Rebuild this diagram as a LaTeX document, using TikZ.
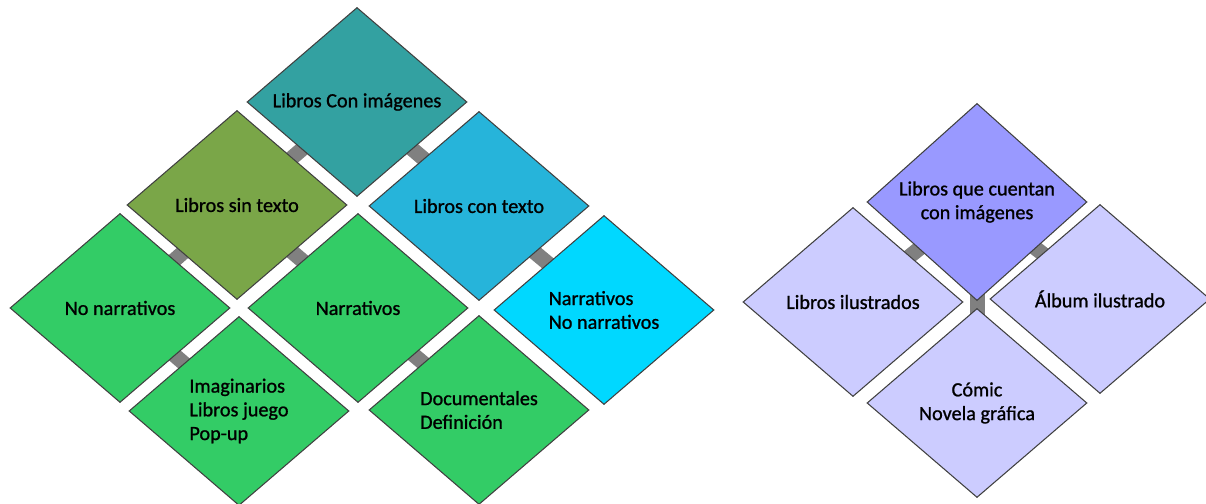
\documentclass[tikz,border=0pt]{standalone}
\usepackage{fontspec}
\setmainfont{Carlito}[FakeBold=1]
\usetikzlibrary{positioning,shapes.geometric,backgrounds}

\definecolor{tealbox}{HTML}{33A1A1}
\definecolor{olivebox}{HTML}{7AA648}
\definecolor{bluebox}{HTML}{26B4DA}
\definecolor{greenbox}{HTML}{33CC66}
\definecolor{cyanbox}{HTML}{00D8FF}
\definecolor{violetbox}{HTML}{9999FF}
\definecolor{lilacbox}{HTML}{CCCCFF}

\begin{document}
\begin{tikzpicture}[on grid,
                    tile/.style={diamond,draw=black!75,line width=0.6pt,minimum width=4.4cm,minimum height=3.78cm,
                                 inner sep=0pt,font=\fontsize{11.5}{13.5}\selectfont},
                    link/.style={draw=black!50,line width=0.3cm}]

  \useasboundingbox (0,0) rectangle (24.12,-10.08);

  % left cluster
  \node[tile,fill=tealbox] (img) at (7.14,-2.04) {Libros Con imágenes};
  \node[tile,fill=olivebox] (sintxt) [below left=2.06cm and 2.40cm of img] {Libros sin texto};
  \node[tile,fill=bluebox] (context) [below right=2.08cm and 2.44cm of img] {Libros con texto};
  \node[tile,fill=greenbox] (nonarr) [below left=2.06cm and 2.34cm of sintxt] {No narrativos};
  \node[tile,fill=greenbox] (narr) [below right=2.06cm and 2.42cm of sintxt] {Narrativos};
  \node[tile,fill=cyanbox,align=left] (mixto) [below right=2.08cm and 2.50cm of context] {Narrativos\\No narrativos};
  \node[tile,fill=greenbox,align=left] (imag) [below right=2.06cm and 2.38cm of nonarr] {Imaginarios\\Libros juego\\Pop-up};
  \node[tile,fill=greenbox,align=left] (doc) [below right=2.04cm and 2.42cm of narr] {Documentales\\Definición};

  % right cluster
  \node[tile,fill=violetbox,align=center] (cuentan) at (19.54,-4.04) {Libros que cuentan\\con imágenes};
  \node[tile,fill=lilacbox] (ilus) [below left=2.00cm and 2.48cm of cuentan] {Libros ilustrados};
  \node[tile,fill=lilacbox] (album) [below right=1.94cm and 2.46cm of cuentan] {Álbum ilustrado};
  \node[tile,fill=lilacbox,align=center] (comic) [below=4.02cm of cuentan] {Cómic\\Novela gráfica};

  \begin{scope}[on background layer]
  \path[every edge/.append style={link}]
    (img.center)     edge (sintxt.center)
    (img.center)     edge (context.center)
    (sintxt.center)  edge (nonarr.center)
    (sintxt.center)  edge (narr.center)
    (context.center) edge (mixto.center)
    (nonarr.center)  edge (imag.center)
    (narr.center)    edge (doc.center)
    (cuentan.center) edge (ilus.center)
    (cuentan.center) edge (album.center)
    (cuentan.center) edge (comic.center);
  \end{scope}

\end{tikzpicture}
\end{document}
